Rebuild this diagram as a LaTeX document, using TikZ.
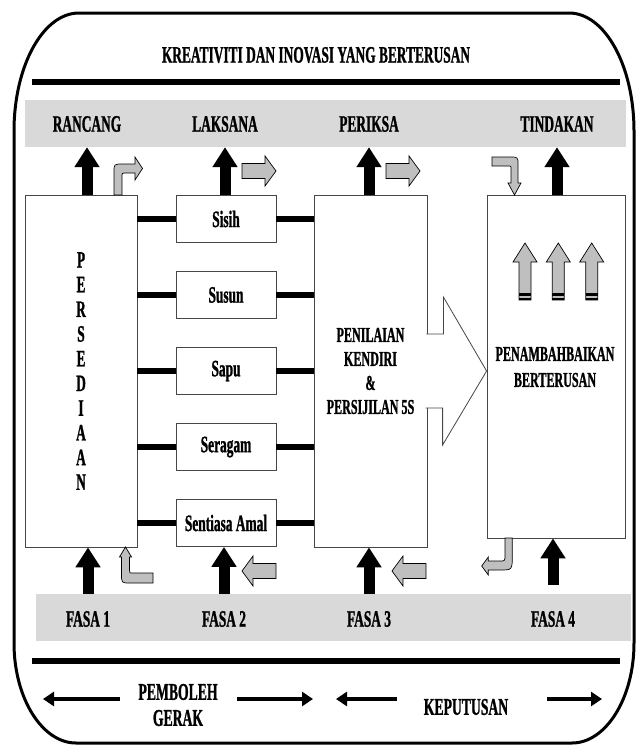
\documentclass[tikz,border=0pt]{standalone}
\usepackage{fontspec}
\setmainfont{Liberation Serif}[FakeStretch=0.57, BoldFeatures={FakeBold=1}]
\usetikzlibrary{arrows.meta}

\definecolor{bandgray}{RGB}{217,217,217}
\definecolor{arrowgray}{RGB}{191,191,191}
\definecolor{boxline}{RGB}{70,70,70}

\begin{document}
\begin{tikzpicture}[x=1pt, y=-1pt,
		every node/.style={inner sep=0pt, align=center,
		font=\bfseries\fontsize{23.5}{24.7}\selectfont},
		band/.style={fill=bandgray, minimum height=47pt},
		stagebox/.style={draw=boxline, line width=0.8pt, fill=white},
		stepbox/.style={stagebox, minimum width=100pt, minimum height=47pt},
		link/.style={line width=6pt},
		blackup/.style={line width=11pt, -{Triangle[width=24pt,length=20pt]}},
		flowarrow/.style={line width=4.5pt, -{Triangle[width=14pt,length=11pt]}},
		grayshape/.style={fill=arrowgray, draw=black, line width=0.7pt},
		pics/grayarrow/.style={code={
			\draw[grayshape] (0,-7.5) -- (23,-7.5) -- (23,-15) -- (34,0)
				-- (23,15) -- (23,7.5) -- (0,7.5) -- cycle;}},
		pics/risearrow/.style={code={
			\draw[grayshape] (-6,0) -- (-6,-38) -- (-12,-38) -- (0,-57)
				-- (12,-38) -- (6,-38) -- (6,0) -- cycle;
			\fill (-6,-7) rectangle (6,-4.3);
			\fill (-6,-2.5) rectangle (6,0);}}]

	\useasboundingbox (0,0) rectangle (636,747);

	% outer frame
	\draw[line width=3pt] (14,131) .. controls (14,66) and (43,13) .. (79,13)
		-- (569,13) .. controls (605,13) and (634,66) .. (634,131)
		-- (634,643) .. controls (634,698) and (606,743) .. (572,743)
		-- (76,743) .. controls (42,743) and (14,698) .. (14,643) -- cycle;

	\node (title) at (316,55) {KREATIVITI DAN INOVASI YANG BERTERUSAN};
	\draw[line width=5.5pt] (32,82) -- (620,82);
	\draw[line width=6pt] (32,661) -- (620,661);

	% bands
	\node[band, minimum width=601pt] (topband) at (325.5,123.5) {};
	\node[band, minimum width=595pt] (botband) at (333.5,617.5) {};
	\node (rancang) at (87,124) {RANCANG};
	\node (laksana) at (225,124) {LAKSANA};
	\node (periksa) at (369,124) {PERIKSA};
	\node (tindakan) at (557,124) {TINDAKAN};
	\node (fasa1) at (88,619) {FASA 1};
	\node (fasa2) at (224,619) {FASA 2};
	\node (fasa3) at (369,619) {FASA 3};
	\node (fasa4) at (553,619) {FASA 4};

	% boxes
	\node[stagebox, minimum width=112pt, minimum height=352pt] (persed) at (81,371)
		{P\\E\\R\\S\\E\\D\\I\\A\\A\\N};
	\foreach \name/\lbl [count=\i] in {sisih/Sisih, susun/Susun, sapu/Sapu,
		seragam/Seragam, sentiasa/Sentiasa Amal}
		\node[stepbox] (\name) at (226,143+76*\i) {\lbl};
	\node[stagebox, minimum width=113pt, minimum height=352pt,
		font=\bfseries\fontsize{21.2}{24}\selectfont] (penilaian) at (370.5,371)
		{PENILAIAN\\KENDIRI\\\&\\PERSIJILAN 5S};
	\node[stagebox, minimum width=138pt, minimum height=343pt] (penambah) at (556,366.5) {};
	\node[font=\bfseries\fontsize{21.2}{26}\selectfont] (penambahtext) at (555,367)
		{PENAMBAHBAIKAN\\BERTERUSAN};

	\foreach \b in {sisih, susun, sapu, seragam, sentiasa} {
		\draw[link] (persed.east |- \b.west) -- (\b.west);
		\draw[link] (\b.east) -- (penilaian.west |- \b.east);
	}

	% block arrow into PENAMBAHBAIKAN
	\draw[stagebox] ([xshift=-1pt, yshift=37pt]penilaian.east) -- ++(17,0) -- ++(0,-37)
		-- (penambah.west |- penilaian.east) -- ++(-44,74) -- ++(0,-37) -- ++(-17,0);

	% black arrows
	\foreach \lab/\bx in {rancang/persed, laksana/sisih, periksa/penilaian, tindakan/penambah}
		\draw[blackup] (\lab |- \bx.north) -- (\lab |- topband.south);
	\foreach \lab/\bx in {fasa1/persed, fasa2/sentiasa, fasa3/penilaian}
		\draw[blackup] (\lab |- botband.north) -- (\lab |- \bx.south);
	\draw[blackup, shorten <=9pt] (fasa4 |- botband.north) -- (fasa4 |- penambah.south);

	% gray arrows
	\pic at (242,171) {grayarrow};
	\pic at (386,171) {grayarrow};
	\pic[rotate=180] at (276,571) {grayarrow};
	\pic[rotate=180] at (426,571) {grayarrow};
	\foreach \x in {525, 558.3, 591.7}
		\pic at (\x,300) {risearrow};

	\draw[grayshape] (114,195) -- (114,172) .. controls (114,164) .. (123,164) -- (135,164)
		-- (135,157) -- (142.5,168.5) -- (135,180) -- (135,173) -- (126,173)
		.. controls (122,173) .. (122,177) -- (122,195) -- cycle;
	\draw[grayshape] (492,157) -- (510,157) .. controls (518,157) .. (518,165) -- (518,183)
		-- (521,183) -- (514.5,195) -- (508,183) -- (511,183) -- (511,168)
		.. controls (511,166) .. (509,166) -- (492,166) -- cycle;
	\draw[grayshape] (125.5,547) -- (131.5,557) -- (129.5,557) -- (129.5,570)
		.. controls (129.5,573) .. (133,573) -- (153,573) -- (153,583) -- (130,583)
		.. controls (121.5,583) .. (121.5,574) -- (121.5,557) -- (119.5,557) -- cycle;
	\draw[grayshape] (505,538) -- (512.3,538) -- (512.3,555) .. controls (512.3,570) .. (500,570)
		-- (488.3,570) -- (488.3,575) -- (481.7,566) -- (488.3,557) -- (488.3,561)
		-- (500,561) .. controls (505,561) .. (505,555) -- cycle;

	% bottom labels
	\node[font=\bfseries\fontsize{24}{26}\selectfont] (pemboleh) at (178,705) {PEMBOLEH\\GERAK};
	\node[font=\bfseries\fontsize{24}{26}\selectfont] (keputusan) at (466,707) {KEPUTUSAN};
	\coordinate (pembL) at (43,699);
	\coordinate (pembR) at (313,699);
	\coordinate (kepL) at (336,699);
	\coordinate (kepR) at (602,699);
	\draw[flowarrow] (pembL -| 120,0) -- (pembL);
	\draw[flowarrow] (pembR -| 237,0) -- (pembR);
	\draw[flowarrow] (kepL -| 397,0) -- (kepL);
	\draw[flowarrow] (kepR -| 547,0) -- (kepR);
\end{tikzpicture}
\end{document}
